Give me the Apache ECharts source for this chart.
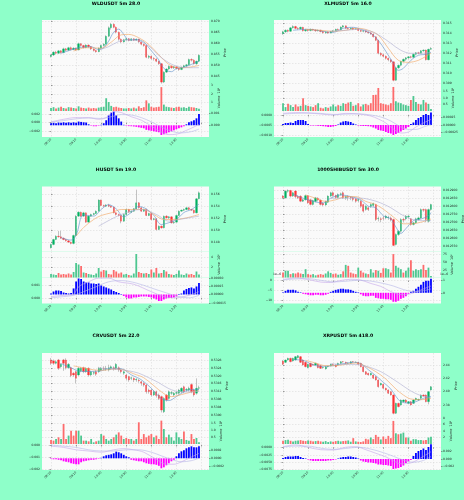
<!DOCTYPE html>
<html><head><meta charset="utf-8">
<script src="https://cdn.jsdelivr.net/npm/echarts@6/dist/echarts.min.js"></script>
<style>html,body{margin:0;padding:0;background:#8effc9}#c{width:464px;height:500px}</style>
</head><body><div id="c"></div>
<script>
const timeLabels = ['08:20','09:10','10:00','10:50','11:40','12:30'];
const timeTickIdx = [0,10,20,30,40,50];
const xTickIdx = [0,10,20,30,40,50,60];

// ---------- WLDUSDT ----------
const wldCandles = [
[0.8540,0.8547,0.8536,0.8551],[0.8547,0.8560,0.8543,0.8564],[0.8560,0.8555,0.8550,0.8566],[0.8555,0.8566,0.8552,0.8570],[0.8566,0.8558,0.8553,0.8569],
[0.8558,0.8575,0.8555,0.8580],[0.8575,0.8569,0.8565,0.8579],[0.8569,0.8580,0.8566,0.8584],[0.8580,0.8572,0.8568,0.8585],[0.8572,0.8578,0.8569,0.8582],
[0.8578,0.8570,0.8566,0.8581],[0.8570,0.8598,0.8568,0.8603],[0.8598,0.8590,0.8585,0.8601],[0.8590,0.8581,0.8577,0.8593],[0.8581,0.8592,0.8578,0.8596],
[0.8592,0.8585,0.8580,0.8595],[0.8585,0.8574,0.8570,0.8588],[0.8574,0.8567,0.8563,0.8578],[0.8567,0.8562,0.8558,0.8571],[0.8562,0.8578,0.8560,0.8581],
[0.8578,0.8590,0.8575,0.8594],[0.8590,0.8596,0.8585,0.8600],[0.8596,0.8632,0.8594,0.8636],[0.8632,0.8670,0.8628,0.8676],[0.8670,0.8686,0.8662,0.8692],
[0.8686,0.8672,0.8668,0.8690],[0.8672,0.8650,0.8645,0.8676],[0.8650,0.8618,0.8612,0.8653],[0.8618,0.8606,0.8601,0.8622],[0.8606,0.8616,0.8603,0.8620],
[0.8616,0.8621,0.8611,0.8625],[0.8621,0.8613,0.8609,0.8624],[0.8613,0.8620,0.8610,0.8623],[0.8620,0.8614,0.8610,0.8623],[0.8614,0.8619,0.8611,0.8622],
[0.8619,0.8606,0.8602,0.8621],[0.8606,0.8596,0.8591,0.8609],[0.8596,0.8590,0.8585,0.8599],[0.8590,0.8537,0.8533,0.8593],[0.8537,0.8542,0.8530,0.8547],
[0.8542,0.8532,0.8526,0.8546],[0.8532,0.8529,0.8522,0.8537],[0.8529,0.8519,0.8515,0.8533],[0.8519,0.8508,0.8503,0.8522],[0.8508,0.8425,0.8418,0.8511],
[0.8425,0.8470,0.8421,0.8474],[0.8470,0.8484,0.8466,0.8488],[0.8484,0.8496,0.8480,0.8500],[0.8496,0.8490,0.8485,0.8500],[0.8490,0.8494,0.8484,0.8498],
[0.8494,0.8487,0.8482,0.8497],[0.8487,0.8482,0.8476,0.8490],[0.8482,0.8492,0.8479,0.8495],[0.8492,0.8499,0.8488,0.8503],[0.8499,0.8503,0.8494,0.8507],
[0.8503,0.8527,0.8500,0.8531],[0.8527,0.8524,0.8518,0.8532],[0.8524,0.8508,0.8504,0.8528],[0.8508,0.8519,0.8503,0.8522],[0.8519,0.8546,0.8515,0.8550]];
const wldVolume = [0.35,0.45,0.3,0.4,0.5,0.35,0.3,0.45,0.4,0.35,0.3,0.55,0.4,0.35,0.3,0.4,0.3,0.35,0.3,0.4,0.45,0.5,1.5,1.05,0.6,0.45,0.5,0.4,0.35,0.3,0.3,0.35,0.3,0.4,0.3,0.55,0.35,0.45,1.25,0.9,0.5,0.4,0.45,0.5,2.8,0.75,0.5,0.45,0.4,0.35,0.45,0.5,0.4,0.45,0.35,0.5,0.45,0.4,0.35,0.25];
const wldHist = [0.00017,0.00021,0.00017,0.00023,0.00021,0.00025,0.00021,0.00025,0.00021,0.00025,0.00021,0.00031,0.00028,0.00025,0.00023,0.00008,-0.00004,-0.00008,-0.00008,-0.00004,0.00004,0.00017,0.00042,0.00083,0.00105,0.00114,0.00083,0.00058,0.00031,0.00004,-0.00004,-0.00007,-0.00008,-0.0001,-0.00013,-0.00017,-0.00021,-0.00025,-0.00038,-0.00042,-0.00046,-0.0005,-0.00054,-0.00058,-0.00081,-0.00075,-0.00067,-0.00058,-0.0005,-0.00042,-0.00033,-0.00025,-0.00017,-0.00008,0.00008,0.00025,0.00033,0.00042,0.00058,0.00094];
const wldMacd = [[0,0.0002],[5,0.0008],[10,0.0012],[15,0.0012],[19,0.0008],[22,0.0012],[25,0.0026],[28,0.0024],[32,0.0014],[36,0.0006],[40,-0.0008],[44,-0.0022],[47,-0.0028],[50,-0.0027],[54,-0.0018],[57,-0.0010],[59,-0.0004]];
const wldSignal = [[0,0.0001],[5,0.0005],[10,0.0009],[15,0.0011],[20,0.0010],[24,0.0014],[28,0.0019],[32,0.0018],[36,0.0012],[40,0.0002],[44,-0.0010],[48,-0.0020],[52,-0.0024],[56,-0.0021],[59,-0.0015]];
const wldMa1 = [[4,0.8555],[8,0.8570],[12,0.8582],[16,0.8584],[19,0.8572],[21,0.8580],[23,0.8610],[25,0.8650],[27,0.8664],[29,0.8640],[31,0.8615],[34,0.8617],[37,0.8606],[39,0.8580],[41,0.8553],[43,0.8525],[44,0.8500],[46,0.8478],[48,0.8472],[50,0.8486],[53,0.8492],[56,0.8505],[59,0.8520]];
const wldMa2 = [[9,0.8565],[14,0.8580],[20,0.8578],[24,0.8605],[28,0.8638],[31,0.8640],[35,0.8625],[39,0.8595],[43,0.8548],[47,0.8505],[51,0.8489],[55,0.8492],[59,0.8500]];
const wldMa3 = [[19,0.8570],[23,0.8585],[27,0.8608],[31,0.8615],[35,0.8610],[39,0.8588],[43,0.8545],[47,0.8512],[51,0.8494],[55,0.8490],[59,0.8490]];
const wldPriceTicks = [0.845,0.85,0.855,0.86,0.865,0.87];
const wldVolTicks = [1,2,3];
const wldMacdTicks = [-0.002,0,0.002];
const wldHistTicks = [0,0.001];

// ---------- XLMUSDT ----------
const xlmCandles = [
[0.31395,0.31415,0.31385,0.31425],[0.31415,0.31430,0.31405,0.31440],[0.31430,0.31420,0.31410,0.31438],[0.31420,0.31455,0.31415,0.31462],[0.31455,0.31468,0.31448,0.31480],
[0.31468,0.31450,0.31440,0.31475],[0.31450,0.31445,0.31435,0.31460],[0.31445,0.31460,0.31438,0.31466],[0.31460,0.31425,0.31418,0.31465],[0.31425,0.31435,0.31415,0.31445],
[0.31435,0.31428,0.31418,0.31440],[0.31428,0.31440,0.31420,0.31448],[0.31440,0.31432,0.31425,0.31445],[0.31432,0.31425,0.31415,0.31440],[0.31425,0.31430,0.31418,0.31438],
[0.31430,0.31418,0.31410,0.31436],[0.31418,0.31405,0.31398,0.31425],[0.31405,0.31412,0.31396,0.31420],[0.31412,0.31402,0.31395,0.31418],[0.31402,0.31418,0.31398,0.31424],
[0.31418,0.31425,0.31410,0.31432],[0.31425,0.31440,0.31420,0.31446],[0.31440,0.31435,0.31428,0.31448],[0.31435,0.31462,0.31430,0.31470],[0.31462,0.31475,0.31455,0.31482],
[0.31475,0.31450,0.31445,0.31478],[0.31450,0.31445,0.31438,0.31458],[0.31445,0.31452,0.31440,0.31460],[0.31452,0.31440,0.31432,0.31458],[0.31440,0.31445,0.31435,0.31452],
[0.31445,0.31428,0.31420,0.31450],[0.31428,0.31420,0.31412,0.31435],[0.31420,0.31425,0.31410,0.31432],[0.31425,0.31412,0.31405,0.31430],[0.31412,0.31405,0.31396,0.31418],
[0.31405,0.31392,0.31385,0.31410],[0.31392,0.31365,0.31358,0.31398],[0.31365,0.31330,0.31322,0.31370],[0.31330,0.31200,0.31190,0.31335],[0.31200,0.31185,0.31170,0.31210],
[0.31185,0.31170,0.31160,0.31195],[0.31170,0.31150,0.31138,0.31178],[0.31150,0.31135,0.31120,0.31158],[0.31135,0.31115,0.31105,0.31140],[0.31115,0.30930,0.30920,0.31120],
[0.30930,0.31055,0.30925,0.31060],[0.31055,0.31080,0.31045,0.31088],[0.31080,0.31120,0.31070,0.31126],[0.31120,0.31140,0.31110,0.31148],[0.31140,0.31155,0.31125,0.31162],
[0.31155,0.31165,0.31140,0.31172],[0.31165,0.31160,0.31150,0.31175],[0.31160,0.31190,0.31155,0.31196],[0.31190,0.31205,0.31180,0.31212],[0.31205,0.31200,0.31190,0.31215],
[0.31200,0.31225,0.31195,0.31232],[0.31225,0.31232,0.31215,0.31240],[0.31232,0.31135,0.31128,0.31238],[0.31135,0.31240,0.31130,0.31246],[0.31240,0.31248,0.31235,0.31262]];
const xlmVolume = [0.6,0.3,0.55,0.45,0.3,0.5,0.35,0.4,0.98,0.45,0.4,0.35,0.3,0.45,0.6,0.25,0.2,0.3,0.25,0.35,0.5,0.35,0.45,0.4,0.6,0.55,0.65,0.7,0.4,0.45,0.6,0.35,0.5,0.55,0.45,0.6,1.23,1.25,1.77,0.6,0.55,0.5,0.45,0.6,1.85,0.75,0.65,0.6,0.5,0.45,0.4,0.85,1.15,0.7,0.55,0.5,0.85,0.65,0.55,0.15];
const xlmHist = [0.000033,0.000067,0.000067,0.000083,0.000067,0.000133,0.000167,0.000167,0.000167,0.000133,0.000033,-0.000017,-0.000017,-0.000017,-0.000027,-0.000033,-0.00004,-0.00005,-0.000067,-0.000067,-0.00005,-0.000033,0.000017,0.000083,0.000117,0.000133,0.000117,0.0001,0.00005,0.000017,-0.000017,-0.000027,-0.000033,-0.000033,-0.00004,-0.00005,-0.000083,-0.000117,-0.000167,-0.000183,-0.0002,-0.000233,-0.000267,-0.000283,-0.000333,-0.0003,-0.000267,-0.000217,-0.000167,-0.000117,-0.000067,0.000033,0.000083,0.000167,0.000233,0.000267,0.000333,0.000367,0.000333,0.000417];
const xlmMacd = [[0,0.00008],[5,0.00012],[10,0.0001],[15,0.00005],[20,0.0],[25,0.00008],[30,0.00005],[35,-0.00005],[38,-0.0002],[41,-0.0004],[44,-0.0007],[47,-0.0009],[50,-0.00085],[53,-0.0006],[56,-0.0004],[59,-0.00022]];
const xlmSignal = [[0,0.00005],[5,0.00008],[10,0.0001],[15,0.00008],[20,0.00003],[25,0.00004],[30,0.00006],[35,0.0],[39,-0.0001],[43,-0.0003],[47,-0.0006],[50,-0.00072],[53,-0.00072],[56,-0.0006],[59,-0.00048]];
const xlmMa1 = [[4,0.3143],[10,0.3144],[16,0.3142],[20,0.3141],[24,0.3145],[28,0.3146],[32,0.3143],[35,0.3140],[38,0.3133],[41,0.3122],[44,0.3110],[46,0.3103],[48,0.3105],[51,0.3113],[54,0.3118],[57,0.3119],[59,0.3121]];
const xlmMa2 = [[9,0.3144],[15,0.3143],[20,0.3142],[25,0.3143],[30,0.3145],[34,0.3143],[38,0.3138],[42,0.3125],[46,0.3113],[50,0.3111],[54,0.3113],[57,0.3117],[59,0.3120]];
const xlmMa3 = [[19,0.3142],[25,0.3143],[30,0.3144],[35,0.3142],[39,0.3137],[43,0.3130],[47,0.3123],[51,0.3120],[55,0.3120],[59,0.3121]];
const xlmPriceTicks = [0.309,0.31,0.311,0.312,0.313,0.314,0.315];
const xlmVolTicks = [0.5,1,1.5];
const xlmMacdTicks = [-0.001,-0.0005,0];
const xlmHistTicks = [-0.00025,0,0.00025];

// ---------- HUSDT ----------
const huCandles = [
[0.14711,0.14767,0.14700,0.14780],[0.14767,0.14850,0.14755,0.14862],[0.14850,0.14906,0.14840,0.14920],[0.14906,0.14895,0.14880,0.14990],[0.14895,0.14872,0.14860,0.14995],
[0.14872,0.14850,0.14838,0.14885],[0.14850,0.14828,0.14815,0.14860],[0.14828,0.14806,0.14795,0.14840],[0.14806,0.14784,0.14770,0.14815],[0.14784,0.14917,0.14770,0.14930],
[0.14917,0.15239,0.14905,0.15255],[0.15239,0.15305,0.15225,0.15320],[0.15305,0.15239,0.15225,0.15315],[0.15239,0.15294,0.15228,0.15310],[0.15294,0.15139,0.15128,0.15300],
[0.15139,0.15239,0.15130,0.15250],[0.15239,0.15267,0.15230,0.15280],[0.15267,0.15283,0.15255,0.15295],[0.15283,0.15322,0.15275,0.15335],[0.15322,0.15506,0.15315,0.15520],
[0.15506,0.15417,0.15405,0.15515],[0.15417,0.15406,0.15395,0.15430],[0.15406,0.15422,0.15395,0.15440],[0.15422,0.15406,0.15390,0.15445],[0.15406,0.15389,0.15378,0.15420],
[0.15389,0.15294,0.15285,0.15400],[0.15294,0.15267,0.15250,0.15305],[0.15267,0.15250,0.15235,0.15280],[0.15250,0.15156,0.15120,0.15260],[0.15156,0.15267,0.15145,0.15278],
[0.15267,0.15350,0.15255,0.15365],[0.15350,0.15305,0.15295,0.15360],[0.15305,0.15322,0.15295,0.15335],[0.15322,0.15361,0.15310,0.15375],[0.15361,0.15461,0.15350,0.15680],
[0.15461,0.15378,0.15365,0.15475],[0.15378,0.15322,0.15310,0.15390],[0.15322,0.15350,0.15310,0.15365],[0.15350,0.15250,0.15240,0.15362],[0.15250,0.15283,0.15240,0.15295],
[0.15283,0.15183,0.15170,0.15295],[0.15183,0.15194,0.15170,0.15210],[0.15194,0.15017,0.15000,0.15205],[0.15017,0.15072,0.15005,0.15085],[0.15072,0.15044,0.15030,0.15085],
[0.15044,0.15239,0.15035,0.15250],[0.15239,0.15211,0.15200,0.15255],[0.15211,0.15228,0.15195,0.15240],[0.15228,0.15128,0.15115,0.15240],[0.15128,0.15139,0.15110,0.15155],
[0.15139,0.15250,0.15130,0.15262],[0.15250,0.15322,0.15240,0.15335],[0.15322,0.15339,0.15310,0.15350],[0.15339,0.15350,0.15325,0.15365],[0.15350,0.15378,0.15340,0.15390],
[0.15378,0.15350,0.15340,0.15395],[0.15350,0.15339,0.15325,0.15362],[0.15339,0.15294,0.15280,0.15350],[0.15294,0.15528,0.15285,0.15540],[0.15528,0.15628,0.15520,0.15650]];
const huVolume = [0.7,0.6,0.5,0.9,0.6,0.7,0.6,0.8,0.6,1.1,2.9,2.6,2.3,1.0,0.9,0.7,0.6,0.5,0.8,1.9,1.2,1.5,1.4,0.7,0.6,1.5,1.2,0.8,1.0,0.6,0.7,0.5,0.4,0.8,4.7,1.1,0.9,0.8,0.9,0.7,1.6,1.0,1.9,0.8,0.9,1.5,1.2,0.7,0.6,0.5,0.7,1.4,0.6,0.5,0.8,0.6,0.7,0.5,1.2,0.6];
const huHist = [0.000018,0.000054,0.000072,0.000072,0.000063,0.000036,0.000027,0.000018,0.000027,0.000109,0.000235,0.00029,0.00028,0.000235,0.000217,0.000217,0.000199,0.000199,0.00019,0.000199,0.000163,0.000145,0.000127,0.000109,0.00009,0.000063,0.000045,0.000027,0.000009,-0.000027,-0.000054,-0.000072,-0.000072,-0.000054,-0.000054,-0.000045,-0.000036,-0.000036,-0.000036,-0.000045,-0.000054,-0.000072,-0.00009,-0.000118,-0.000118,-0.00009,-0.000072,-0.000063,-0.000063,-0.000054,-0.000036,0.000009,0.000018,0.000072,0.0001,0.000118,0.000127,0.000109,0.000145,0.000208];
const huMacd = [[0,0.0001],[5,0.0002],[9,0.0003],[11,0.0009],[15,0.0013],[19,0.0016],[23,0.0016],[27,0.0013],[33,0.0011],[40,0.0005],[45,0.0001],[49,0.0],[55,0.0002],[59,0.0005]];
const huSignal = [[0,0.0],[5,0.0001],[9,0.0002],[13,0.0005],[18,0.0009],[23,0.0013],[28,0.0014],[34,0.0012],[40,0.0008],[46,0.0004],[51,0.0001],[55,0.0],[59,0.0002]];
const huMa1 = [[4,0.1488],[8,0.1484],[10,0.1492],[13,0.1526],[17,0.1524],[20,0.1535],[23,0.1543],[26,0.1536],[29,0.1523],[32,0.1530],[35,0.1540],[38,0.1536],[41,0.1525],[44,0.1510],[47,0.1513],[50,0.1518],[53,0.1530],[56,0.1535],[59,0.1544]];
const huMa2 = [[10,0.14906],[13,0.1505],[17,0.15183],[20,0.1525],[24,0.15294],[28,0.1535],[33,0.1535],[37,0.1535],[41,0.15267],[45,0.15183],[49,0.15183],[54,0.15211],[59,0.15267]];
const huMa3 = [[19,0.15072],[28,0.15267],[36,0.1535],[42,0.15267],[47,0.15156],[51,0.15183],[59,0.15239]];
const huPriceTicks = [0.148,0.15,0.152,0.154,0.156];
const huVolTicks = [2,4];
const huMacdTicks = [0,0.001];
const huHistTicks = [-0.00015,0,0.00015,0.0003];

// ---------- 1000SHIBUSDT (MACD in units of 1e-6) ----------
const shibCandles = [
[0.012863,0.012852,0.012845,0.012870],[0.012852,0.012894,0.012848,0.012900],[0.012894,0.012898,0.012885,0.012905],[0.012898,0.012863,0.012855,0.012902],[0.012863,0.012884,0.012858,0.012890],
[0.012895,0.012860,0.012850,0.012900],[0.012860,0.012852,0.012845,0.012868],[0.012862,0.012831,0.012825,0.012868],[0.012831,0.012840,0.012826,0.012846],[0.012840,0.012866,0.012835,0.012872],
[0.012866,0.012821,0.012815,0.012870],[0.012840,0.012811,0.012805,0.012845],[0.012811,0.012835,0.012805,0.012840],[0.012830,0.012852,0.012825,0.012858],[0.012850,0.012838,0.012830,0.012856],
[0.012838,0.012811,0.012805,0.012842],[0.012818,0.012808,0.012800,0.012825],[0.012808,0.012830,0.012802,0.012835],[0.012825,0.012863,0.012820,0.012868],[0.012863,0.012884,0.012858,0.012890],
[0.012884,0.012867,0.012860,0.012892],[0.012867,0.012855,0.012848,0.012872],[0.012855,0.012873,0.012850,0.012880],[0.012873,0.012878,0.012866,0.012885],[0.012884,0.012852,0.012845,0.012892],
[0.012852,0.012860,0.012840,0.012866],[0.012860,0.012856,0.012835,0.012868],[0.012856,0.012852,0.012838,0.012862],[0.012852,0.012842,0.012830,0.012858],[0.012846,0.012831,0.012822,0.012850],
[0.012835,0.012842,0.012825,0.012848],[0.012831,0.012800,0.012790,0.012838],[0.012811,0.012769,0.012760,0.012815],[0.012779,0.012800,0.012772,0.012806],[0.012790,0.012779,0.012770,0.012798],
[0.012800,0.012811,0.012790,0.012818],[0.012804,0.012817,0.012798,0.012822],[0.012811,0.012717,0.012708,0.012815],[0.012721,0.012725,0.012705,0.012735],[0.012721,0.012717,0.012700,0.012730],
[0.012727,0.012725,0.012712,0.012738],[0.012727,0.012738,0.012718,0.012745],[0.012727,0.012731,0.012715,0.012740],[0.012727,0.012713,0.012705,0.012735],[0.012717,0.012555,0.012550,0.012722],
[0.012561,0.012623,0.012555,0.012630],[0.012623,0.012644,0.012615,0.012650],[0.012644,0.012717,0.012635,0.012725],[0.012717,0.012713,0.012700,0.012728],[0.012721,0.012738,0.012712,0.012745],
[0.012734,0.012738,0.012722,0.012746],[0.012721,0.012686,0.012678,0.012726],[0.012686,0.012696,0.012680,0.012702],[0.012696,0.012721,0.012690,0.012728],[0.012717,0.012727,0.012710,0.012735],
[0.012727,0.012779,0.012720,0.012786],[0.012779,0.012775,0.012765,0.012785],[0.012779,0.012717,0.012700,0.012785],[0.012706,0.012779,0.012698,0.012785],[0.012779,0.012811,0.012772,0.012815]];
const shibVolume = [16,22,22,11,14,13,16,13,11,27,11,9,11,7,9,11,9,13,20,15,11,13,9,11,20,41,38,16,13,11,32,22,16,13,11,27,16,24,22,15,30,30,27,16,76,38,32,27,16,22,32,56,22,27,24,27,41,24,32,5];
const shibHist = [0.04,0.16,0.24,0.24,0.24,0.2,0.08,0.04,-0.08,-0.12,-0.16,-0.2,-0.2,-0.16,-0.16,-0.2,-0.2,-0.16,-0.08,0.08,0.16,0.24,0.28,0.33,0.33,0.28,0.28,0.24,0.16,0.08,0.04,-0.12,-0.24,-0.28,-0.28,-0.24,-0.24,-0.41,-0.45,-0.49,-0.49,-0.53,-0.53,-0.57,-0.73,-0.73,-0.65,-0.49,-0.41,-0.28,-0.08,0.08,0.16,0.33,0.49,0.65,0.89,0.98,0.98,1.14];
const shibMacd = [[0,0.5],[5,1.3],[10,0.5],[15,-0.8],[19,-1.0],[23,0.0],[27,0.6],[31,0.2],[35,-1.5],[39,-3.0],[42,-5.0],[46,-7.0],[49,-7.2],[52,-6.3],[55,-4.8],[59,-2.8]];
const shibSignal = [[0,0.3],[5,0.8],[10,0.9],[15,0.1],[20,-0.7],[25,-0.4],[30,0.1],[35,-0.3],[40,-1.5],[44,-2.8],[48,-4.6],[52,-5.6],[56,-5.2],[59,-4.3]];
const shibMa1 = [[4,0.012875],[8,0.01285],[12,0.01283],[16,0.01282],[19,0.01285],[23,0.01287],[27,0.01286],[31,0.01284],[34,0.0128],[37,0.01279],[40,0.01274],[43,0.01272],[45,0.01267],[47,0.01263],[49,0.01266],[52,0.01271],[55,0.01272],[58,0.01274],[59,0.01276]];
const shibMa2 = [[9,0.01287],[13,0.01285],[17,0.01283],[21,0.01284],[25,0.01286],[29,0.01286],[33,0.01283],[37,0.01281],[41,0.01277],[45,0.01272],[48,0.01269],[51,0.01269],[55,0.0127],[59,0.01272]];
const shibMa3 = [[19,0.01285],[23,0.01285],[27,0.01285],[31,0.01285],[35,0.01284],[39,0.01282],[43,0.01279],[47,0.01275],[51,0.01272],[55,0.01271],[59,0.01271]];
const shibPriceTicks = [0.01255,0.0126,0.01265,0.0127,0.01275,0.0128,0.01285,0.0129];
const shibVolTicks = [25,50,75];
const shibMacdTicks = [-10,-5,0];
const shibHistTicks = [0,1];

// ---------- CRVUSDT ----------
const crvCandles = [
[0.53280,0.53263,0.53255,0.53290],[0.53275,0.53263,0.53255,0.53282],[0.53263,0.53271,0.53258,0.53278],[0.53280,0.53238,0.53230,0.53285],[0.53246,0.53258,0.53240,0.53264],
[0.53280,0.53263,0.53225,0.53285],[0.53280,0.53241,0.53232,0.53288],[0.53241,0.53258,0.53235,0.53264],[0.53241,0.53201,0.53193,0.53246],[0.53213,0.53204,0.53195,0.53218],
[0.53221,0.53187,0.53162,0.53226],[0.53204,0.53238,0.53198,0.53244],[0.53225,0.53238,0.53218,0.53244],[0.53241,0.53221,0.53213,0.53246],[0.53221,0.53238,0.53215,0.53243],
[0.53238,0.53204,0.53196,0.53243],[0.53204,0.53221,0.53198,0.53226],[0.53213,0.53216,0.53205,0.53222],[0.53221,0.53208,0.53200,0.53228],[0.53221,0.53238,0.53215,0.53245],
[0.53229,0.53238,0.53222,0.53244],[0.53238,0.53235,0.53228,0.53248],[0.53235,0.53238,0.53225,0.53250],[0.53229,0.53241,0.53222,0.53256],[0.53238,0.53246,0.53230,0.53252],
[0.53241,0.53235,0.53226,0.53248],[0.53238,0.53258,0.53230,0.53264],[0.53241,0.53229,0.53220,0.53247],[0.53229,0.53221,0.53212,0.53235],[0.53213,0.53221,0.53205,0.53226],
[0.53204,0.53187,0.53178,0.53210],[0.53196,0.53179,0.53170,0.53200],[0.53187,0.53190,0.53178,0.53196],[0.53187,0.53179,0.53168,0.53192],[0.53179,0.53182,0.53170,0.53188],
[0.53177,0.53174,0.53165,0.53184],[0.53170,0.53162,0.53150,0.53175],[0.53162,0.53153,0.53145,0.53168],[0.53153,0.53120,0.53110,0.53158],[0.53128,0.53120,0.53110,0.53135],
[0.53128,0.53103,0.53095,0.53135],[0.53103,0.53120,0.53098,0.53126],[0.53120,0.53100,0.53090,0.53125],[0.53103,0.53086,0.53078,0.53110],[0.53095,0.53027,0.53015,0.53100],
[0.53018,0.53086,0.53012,0.53092],[0.53103,0.53078,0.53070,0.53108],[0.53086,0.53120,0.53080,0.53126],[0.53112,0.53115,0.53104,0.53122],[0.53103,0.53112,0.53096,0.53118],
[0.53112,0.53115,0.53104,0.53124],[0.53112,0.53128,0.53105,0.53134],[0.53120,0.53137,0.53112,0.53142],[0.53145,0.53120,0.53112,0.53150],[0.53128,0.53131,0.53120,0.53138],
[0.53128,0.53137,0.53120,0.53145],[0.53156,0.53120,0.53112,0.53162],[0.53128,0.53103,0.53095,0.53135],[0.53112,0.53137,0.53105,0.53187],[0.53137,0.53140,0.53128,0.53150]];
const crvVolume = [0.29,0.24,0.36,0.48,0.36,1.43,0.36,0.6,0.95,0.6,0.95,0.95,0.6,0.24,0.24,0.19,0.36,0.12,0.19,0.24,0.71,0.6,0.36,0.24,0.36,0.48,0.67,0.83,0.6,0.36,0.43,0.36,0.36,0.24,0.36,1.55,0.36,0.71,0.48,0.6,0.71,0.48,0.6,0.36,1.67,1.07,0.48,0.67,0.48,0.24,0.83,0.48,0.36,0.9,0.29,0.24,0.71,0.36,0.43,0.12];
const crvHist = [-0.000012,-0.000024,-0.000024,-0.000036,-0.000048,-0.000072,-0.000084,-0.000096,-0.00012,-0.000133,-0.000145,-0.000145,-0.000096,-0.000072,-0.00006,-0.000048,-0.000036,-0.000036,-0.000024,-0.000012,0.000012,0.000048,0.000072,0.000084,0.000096,0.00012,0.000161,0.000145,0.00012,0.000084,0.000048,0.000024,-0.000036,-0.000048,-0.00006,-0.000072,-0.000072,-0.000096,-0.00012,-0.000133,-0.000145,-0.000145,-0.000157,-0.000181,-0.000241,-0.000217,-0.000169,-0.00012,-0.000072,-0.000036,0.000048,0.00012,0.000169,0.000193,0.000241,0.000265,0.000289,0.000265,0.000265,0.000289];
const crvMacd = [[0,-0.0001],[5,-0.0002],[10,-0.0004],[15,-0.0005],[20,-0.0006],[25,-0.0004],[29,-0.0003],[33,-0.0004],[37,-0.0006],[42,-0.0012],[46,-0.0016],[49,-0.0016],[52,-0.0014],[56,-0.001],[59,-0.0007]];
const crvSignal = [[0,0.0],[5,-0.0001],[10,-0.0002],[15,-0.0004],[20,-0.0005],[25,-0.0005],[30,-0.0004],[35,-0.0004],[40,-0.0006],[44,-0.0009],[48,-0.0012],[52,-0.0014],[56,-0.0013],[59,-0.0011]];
const crvMa1 = [[4,0.53262],[8,0.5324],[12,0.53222],[16,0.53222],[20,0.53226],[24,0.53238],[28,0.53236],[32,0.53205],[36,0.5318],[40,0.53137],[44,0.53085],[47,0.53075],[50,0.53095],[54,0.53125],[57,0.5313],[59,0.5313]];
const crvMa2 = [[9,0.5325],[13,0.5324],[17,0.5323],[21,0.53228],[25,0.53234],[29,0.5323],[33,0.5321],[37,0.5319],[41,0.5315],[45,0.5311],[48,0.53095],[52,0.53105],[56,0.53118],[59,0.53125]];
const crvMa3 = [[19,0.5324],[23,0.53235],[27,0.53232],[31,0.53225],[35,0.53213],[39,0.5319],[43,0.53165],[47,0.53135],[51,0.5312],[55,0.53118],[59,0.53122]];
const crvPriceTicks = [0.53,0.5304,0.5308,0.5312,0.5316,0.532,0.5324,0.5328];
const crvVolTicks = [0.5,1,1.5];
const crvMacdTicks = [-0.002,-0.001,0];
const crvHistTicks = [-0.0002,0,0.0002];

// ---------- XRPUSDT ----------
const xrpCandles = [
[2.4460,2.4410,2.4400,2.4475],[2.4440,2.4475,2.4430,2.4485],[2.4475,2.4500,2.4465,2.4510],[2.4500,2.4450,2.4440,2.4510],[2.4460,2.4500,2.4450,2.4510],
[2.4475,2.4525,2.4465,2.4535],[2.4510,2.4540,2.4500,2.4550],[2.4525,2.4440,2.4430,2.4535],[2.4475,2.4400,2.4390,2.4485],[2.4440,2.4375,2.4365,2.4450],
[2.4360,2.4410,2.4350,2.4420],[2.4425,2.4375,2.4365,2.4435],[2.4410,2.4400,2.4390,2.4420],[2.4400,2.4425,2.4390,2.4435],[2.4410,2.4360,2.4350,2.4420],
[2.4390,2.4350,2.4340,2.4400],[2.4360,2.4365,2.4345,2.4375],[2.4340,2.4375,2.4330,2.4385],[2.4375,2.4380,2.4365,2.4390],[2.4390,2.4410,2.4380,2.4420],
[2.4410,2.4405,2.4395,2.4420],[2.4400,2.4375,2.4365,2.4410],[2.4400,2.4425,2.4390,2.4435],[2.4425,2.4450,2.4415,2.4460],[2.4450,2.4445,2.4435,2.4460],
[2.4440,2.4425,2.4415,2.4450],[2.4425,2.4430,2.4415,2.4440],[2.4425,2.4450,2.4415,2.4460],[2.4450,2.4445,2.4435,2.4460],[2.4440,2.4445,2.4430,2.4455],
[2.4440,2.4410,2.4400,2.4450],[2.4425,2.4375,2.4365,2.4435],[2.4375,2.4300,2.4290,2.4385],[2.4300,2.4260,2.4250,2.4310],[2.4275,2.4250,2.4240,2.4285],
[2.4250,2.4275,2.4240,2.4285],[2.4250,2.4200,2.4190,2.4260],[2.4225,2.4175,2.4165,2.4235],[2.4175,2.4075,2.4060,2.4185],[2.4100,2.4125,2.4090,2.4135],
[2.4110,2.4050,2.4040,2.4120],[2.4050,2.4025,2.4015,2.4060],[2.4025,2.3975,2.3965,2.4035],[2.4000,2.3950,2.3940,2.4010],[2.3950,2.3675,2.3660,2.3960],
[2.3675,2.3825,2.3665,2.3835],[2.3825,2.3775,2.3765,2.3835],[2.3800,2.3875,2.3790,2.3885],[2.3850,2.3875,2.3840,2.3885],[2.3875,2.3840,2.3830,2.3890],
[2.3825,2.3850,2.3815,2.3860],[2.3850,2.3800,2.3790,2.3860],[2.3825,2.3875,2.3815,2.3885],[2.3875,2.3900,2.3865,2.3910],[2.3875,2.3885,2.3865,2.3895],
[2.3900,2.3950,2.3890,2.3960],[2.3950,2.3935,2.3925,2.3960],[2.3950,2.3850,2.3840,2.3960],[2.3850,2.4000,2.3810,2.4010],[2.4025,2.4075,2.4015,2.4085]];
const xrpVolume = [1.0,1.2,1.3,1.0,0.8,1.0,1.1,1.2,1.0,0.9,1.1,1.0,0.8,0.9,1.0,0.8,0.7,0.9,0.6,0.8,0.7,0.9,1.0,0.8,0.9,1.0,1.1,0.7,1.8,0.8,0.7,0.6,0.8,1.6,1.4,2.0,1.5,2.8,2.2,1.4,2.3,1.6,2.5,1.8,7.1,3.3,3.0,3.2,3.5,2.0,2.0,1.0,1.5,1.5,1.2,1.2,1.1,1.2,2.0,2.2];
const xrpHist = [0.00027,0.00055,0.00069,0.00069,0.00069,0.00082,0.00082,0.00055,0.00027,0.00014,-0.00014,-0.00041,-0.00055,-0.00055,-0.00055,-0.00055,-0.00055,-0.00055,-0.00041,-0.00041,-0.00027,-0.00014,0.00014,0.00041,0.00055,0.00055,0.00069,0.00069,0.00055,0.00041,0.00014,-0.00041,-0.00069,-0.00082,-0.00096,-0.00096,-0.0011,-0.00123,-0.00151,-0.00151,-0.00164,-0.00164,-0.00178,-0.00192,-0.00274,-0.0026,-0.00247,-0.00219,-0.00178,-0.0011,-0.00069,-0.00027,0.00082,0.00164,0.00219,0.00247,0.00288,0.00247,0.00329,0.00403];
const xrpMacd = [[0,0.0002],[5,0.0008],[10,0.0],[15,-0.0008],[20,-0.0009],[25,0.0],[29,0.0002],[33,-0.0008],[37,-0.002],[41,-0.0032],[44,-0.0045],[47,-0.0055],[50,-0.0054],[53,-0.0045],[56,-0.003],[59,-0.0015]];
const xrpSignal = [[0,0.0001],[5,0.0004],[10,0.0004],[15,-0.0003],[20,-0.0007],[25,-0.0004],[30,0.0],[35,-0.0006],[40,-0.0018],[44,-0.003],[48,-0.0043],[52,-0.005],[56,-0.0044],[59,-0.0031]];
const xrpMa1 = [[4,2.448],[8,2.447],[12,2.44],[16,2.438],[20,2.439],[24,2.442],[28,2.444],[31,2.442],[34,2.433],[37,2.424],[40,2.414],[43,2.404],[45,2.393],[47,2.385],[50,2.383],[53,2.385],[56,2.39],[59,2.393]];
const xrpMa2 = [[9,2.447],[13,2.443],[17,2.439],[21,2.439],[25,2.441],[29,2.443],[33,2.438],[37,2.43],[41,2.419],[45,2.404],[48,2.395],[51,2.389],[55,2.388],[59,2.39]];
const xrpMa3 = [[19,2.442],[23,2.441],[27,2.441],[31,2.44],[35,2.436],[39,2.43],[43,2.421],[47,2.411],[51,2.401],[55,2.394],[59,2.391]];
const xrpPriceTicks = [2.38,2.4,2.42,2.44];
const xrpVolTicks = [2,4,6,8];
const xrpMacdTicks = [-0.0075,-0.005,-0.0025,0];
const xrpHistTicks = [-0.002,0,0.002];

// ---------- assembly ----------
const panels = [
 {title:'WLDUSDT 5m 28.0', c:wldCandles, v:wldVolume, h:wldHist, m:wldMacd, s:wldSignal, ma:[wldMa1,wldMa2,wldMa3],
  pt:wldPriceTicks, pr:[0.8412,0.8705], pd:3, vt:wldVolTicks, vmax:3.05, vd:0, mt:wldMacdTicks, mr:[-0.00336,0.00275], md:3, ht:wldHistTicks, hr:[-0.000975,0.00119], hd:3},
 {title:'XLMUSDT 5m 16.0', c:xlmCandles, v:xlmVolume, h:xlmHist, m:xlmMacd, s:xlmSignal, ma:[xlmMa1,xlmMa2,xlmMa3],
  pt:xlmPriceTicks, pr:[0.30883,0.31533], pd:3, vt:xlmVolTicks, vmax:2.0, vd:1, mt:xlmMacdTicks, mr:[-0.0011,0.0002], md:4, ht:xlmHistTicks, hr:[-0.0004,0.000467], hd:5},
 {title:'HUSDT 5m 19.0', c:huCandles, v:huVolume, h:huHist, m:huMacd, s:huSignal, ma:[huMa1,huMa2,huMa3],
  pt:huPriceTicks, pr:[0.1465,0.15733], pd:3, vt:huVolTicks, vmax:5.2, vd:0, mt:huMacdTicks, mr:[-0.00046,0.00165], md:3, ht:huHistTicks, hr:[-0.000163,0.000307], hd:5},
 {title:'1000SHIBUSDT 5m 30.0', c:shibCandles, v:shibVolume, h:shibHist, m:shibMacd, s:shibSignal, ma:[shibMa1,shibMa2,shibMa3],
  pt:shibPriceTicks, pr:[0.012517,0.012923], pd:6, vt:shibVolTicks, vmax:84.4, vd:0, mt:shibMacdTicks, mr:[-11.7,1.52], md:0, ht:shibHistTicks, hr:[-0.87,1.244], hd:0, offset:'1e\u22126'},
 {title:'CRVUSDT 5m 22.0', c:crvCandles, v:crvVolume, h:crvHist, m:crvMacd, s:crvSignal, ma:[crvMa1,crvMa2,crvMa3],
  pt:crvPriceTicks, pr:[0.52987,0.53315], pd:4, vt:crvVolTicks, vmax:1.857, vd:1, mt:crvMacdTicks, mr:[-0.00208,0.000083], md:3, ht:crvHistTicks, hr:[-0.000282,0.000345], hd:4},
 {title:'XRPUSDT 5m 418.0', c:xrpCandles, v:xrpVolume, h:xrpHist, m:xrpMacd, s:xrpSignal, ma:[xrpMa1,xrpMa2,xrpMa3],
  pt:xrpPriceTicks, pr:[2.3605,2.458], pd:2, vt:xrpVolTicks, vmax:8.0, vd:0, mt:xrpMacdTicks, mr:[-0.0076,0.0011], md:4, ht:xrpHistTicks, hr:[-0.00301,0.00411], hd:3}
];

const COL = {up:'#00b060', down:'#fe3032', vup:'#4dc790', vdown:'#fd6b6c', wick:'#8a8a8a', pos:'#0000ff', neg:'#ff00ff',
  ma:['#5b8fc9','#f2a35c','#acacd0'], macd:'#c4a4ea', signal:'#b6b6e8', grid:'#d4d4d4', text:'#222'};
const FONT = 'DejaVu Sans';
const fmt = (v, d) => (v < 0 ? '\u2212' : '') + Math.abs(v).toFixed(d);

const opt = {animation:false, backgroundColor:'#8effc9', textStyle:{fontFamily:FONT},
  grid:[], xAxis:[], yAxis:[], series:[], graphic:[]};

const splitStyle = {color:COL.grid, width:0.5, type:[1.5,1.5]};
function yAxis(gi, pos, range, ticks, dec, split, name, gap) {
  return {type:'value', gridIndex:gi, position:pos, min:range[0], max:range[1], scale:true,
    axisLine:{show:false},
    axisTick:{show:true, customValues:ticks, length:1.5, lineStyle:{color:'#444', width:0.5}},
    axisLabel:{customValues:ticks, formatter:v => fmt(v, dec), fontSize:3, margin:2, color:COL.text, fontFamily:FONT},
    splitLine:{show:split, lineStyle:splitStyle},
    name:name || '', nameLocation:'middle', nameRotate:90, nameGap:gap || 14,
    nameTextStyle:{fontSize:3.4, color:COL.text, fontFamily:FONT}};
}

panels.forEach((p, k) => {
  const col = k % 2, row = Math.floor(k / 2);
  const L = col * 232 + 42, W = 167, T = [20, 186.5, 353][row];
  const tops = [T, T + 65, T + 91], hs = [65, 26, 26];
  const g0 = opt.grid.length;
  for (let g = 0; g < 3; g++) {
    opt.grid.push({left:L, top:tops[g], width:W, height:hs[g], show:true, backgroundColor:'#fafafa', borderWidth:0, containLabel:false, outerBoundsMode:'none'});
    opt.xAxis.push({type:'value', gridIndex:g0 + g, min:-3.6, max:63, axisLine:{show:false},
      axisTick:{show:g === 2, customValues:xTickIdx, length:1.5, lineStyle:{color:'#444', width:0.5}},
      axisLabel:{show:g === 2, customValues:timeTickIdx, formatter:v => timeLabels[timeTickIdx.indexOf(v)] || '', rotate:45, fontSize:3, margin:2, color:COL.text, fontFamily:FONT},
      splitLine:{show:true, lineStyle:splitStyle}});
  }
  const y0 = opt.yAxis.length;
  const nameGap = k === 3 ? 19 : 14;
  opt.yAxis.push(yAxis(g0, 'right', p.pr, p.pt, p.pd, true, 'Price', nameGap));
  opt.yAxis.push(yAxis(g0 + 1, 'right', [0, p.vmax], p.vt, p.vd, true, 'Volume  10\u2076', 9));
  opt.yAxis.push(yAxis(g0 + 2, 'left', p.mr, p.mt, p.md, true));
  opt.yAxis.push(yAxis(g0 + 2, 'right', p.hr, p.ht, p.hd, false));

  // wicks
  opt.series.push({type:'candlestick', xAxisIndex:g0, yAxisIndex:y0, encode:{x:0, y:[1,2,3,4]}, barWidth:0.2, silent:true, z:2,
    data:p.c.map((c, i) => [i, c[0], c[1], c[2], c[3]]),
    itemStyle:{color:COL.wick, color0:COL.wick, borderColor:COL.wick, borderColor0:COL.wick, borderColorDoji:COL.wick, borderWidth:0.5}});
  // bodies
  opt.series.push({type:'candlestick', xAxisIndex:g0, yAxisIndex:y0, encode:{x:0, y:[1,2,3,4]}, barWidth:1.8, silent:true, z:3,
    data:p.c.map((c, i) => [i, c[0], c[1], Math.min(c[0], c[1]), Math.max(c[0], c[1])]),
    itemStyle:{color:COL.up, color0:COL.down, borderColor:COL.up, borderColor0:COL.down, borderWidth:0.2}});
  // moving averages
  p.ma.forEach((m, j) => opt.series.push({type:'line', xAxisIndex:g0, yAxisIndex:y0, data:m, smooth:0.35, showSymbol:false, silent:true, z:4,
    lineStyle:{color:COL.ma[j], width:0.6}}));
  // volume
  opt.series.push({type:'bar', xAxisIndex:g0 + 1, yAxisIndex:y0 + 1, barWidth:1.8, silent:true,
    data:p.v.map((v, i) => ({value:[i, v], itemStyle:{color:p.c[i][1] >= p.c[i][0] ? COL.vup : COL.vdown}}))});
  // MACD histogram
  opt.series.push({type:'bar', xAxisIndex:g0 + 2, yAxisIndex:y0 + 3, barWidth:1.8, silent:true,
    data:p.h.map((v, i) => ({value:[i, v], itemStyle:{color:v >= 0 ? COL.pos : COL.neg}}))});
  // MACD lines
  opt.series.push({type:'line', xAxisIndex:g0 + 2, yAxisIndex:y0 + 2, data:p.m, smooth:0.35, showSymbol:false, silent:true, z:4, lineStyle:{color:COL.macd, width:0.6}});
  opt.series.push({type:'line', xAxisIndex:g0 + 2, yAxisIndex:y0 + 2, data:p.s, smooth:0.35, showSymbol:false, silent:true, z:4, lineStyle:{color:COL.signal, width:0.6}});

  opt.graphic.push({type:'text', x:col * 232 + 116, y:[3.5, 170, 336][row],
    style:{text:p.title, font:'bold 4.6px "DejaVu Sans"', fill:'#000', align:'center', verticalAlign:'middle'}});
  if (p.offset) {
    opt.graphic.push({type:'text', x:L - 1, y:tops[2] - 3, style:{text:p.offset, font:'3px "DejaVu Sans"', fill:COL.text, align:'left', verticalAlign:'middle'}});
    opt.graphic.push({type:'text', x:L + W - 1, y:tops[2] - 3, style:{text:p.offset, font:'3px "DejaVu Sans"', fill:COL.text, align:'left', verticalAlign:'middle'}});
  }
});

const chart = echarts.init(document.getElementById('c'), null, {renderer:'canvas'});
chart.setOption(opt);
</script>
</body></html>
